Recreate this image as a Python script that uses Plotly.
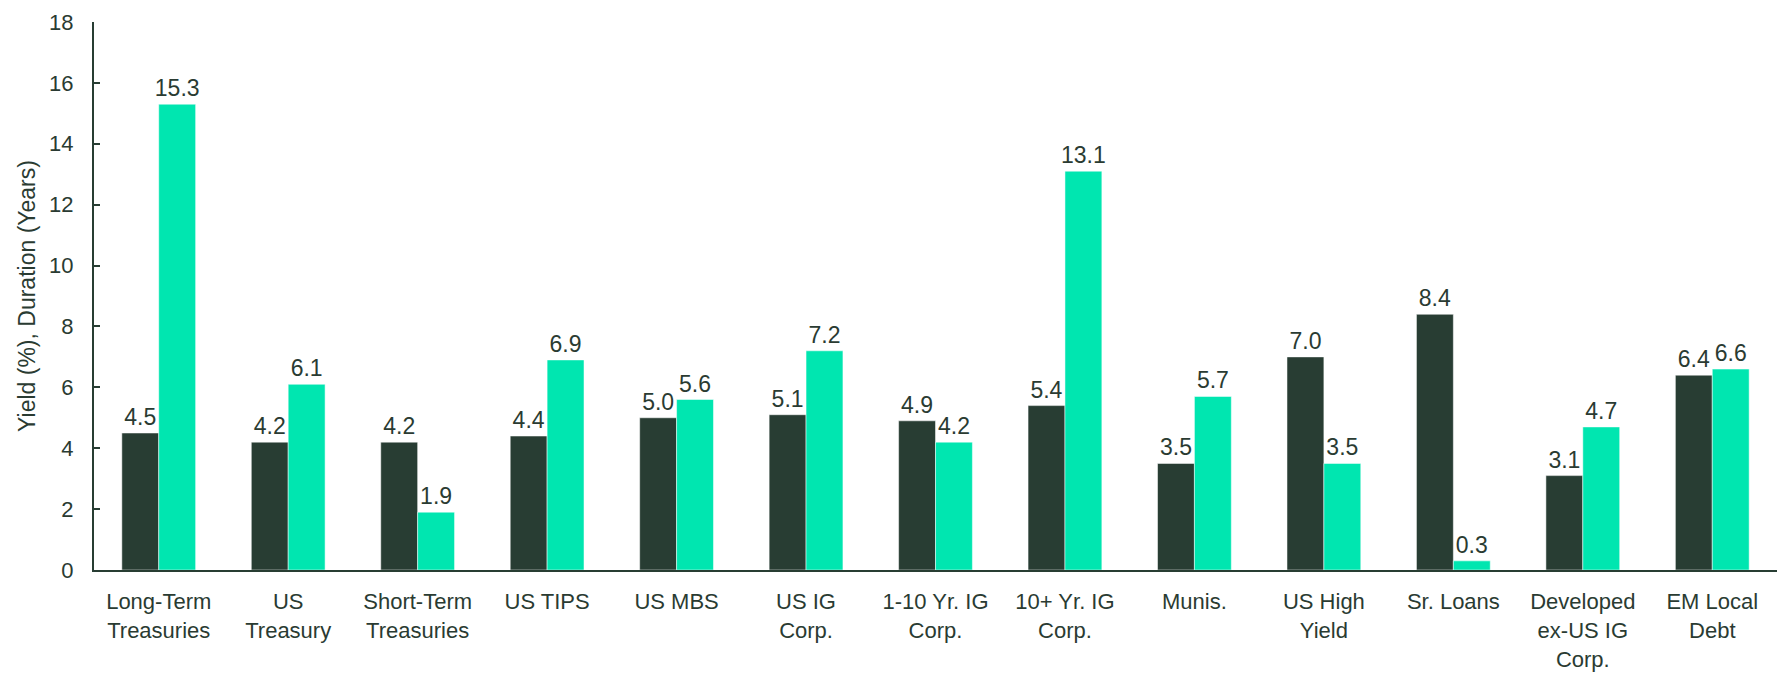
import plotly.graph_objects as go

categories = ["Long-Term<br>Treasuries", "US<br>Treasury", "Short-Term<br>Treasuries", "US TIPS",
              "US MBS", "US IG<br>Corp.", "1-10 Yr. IG<br>Corp.", "10+ Yr. IG<br>Corp.", "Munis.",
              "US High<br>Yield", "Sr. Loans", "Developed<br>ex-US IG<br>Corp.", "EM Local<br>Debt"]
yield_vals = [4.5, 4.2, 4.2, 4.4, 5.0, 5.1, 4.9, 5.4, 3.5, 7.0, 8.4, 3.1, 6.4]
duration_vals = [15.3, 6.1, 1.9, 6.9, 5.6, 7.2, 4.2, 13.1, 5.7, 3.5, 0.3, 4.7, 6.6]
y_ticks = [0, 2, 4, 6, 8, 10, 12, 14, 16, 18]

DARK = "#283D33"
TEAL = "#00E6B0"
TXT = "#2A3B32"
FONT = "Liberation Sans, Arial, sans-serif"

fig = go.Figure()
fig.add_trace(go.Bar(x=categories, y=yield_vals, name="Yield",
                     marker=dict(color=DARK, line=dict(color="white", width=0.5)),
                     text=[f"{v:.1f}" for v in yield_vals], textposition="outside",
                     constraintext="none",
                     textfont=dict(size=23, color=TXT, family=FONT), cliponaxis=False))
fig.add_trace(go.Bar(x=categories, y=duration_vals, name="Duration",
                     marker=dict(color=TEAL, line=dict(color="white", width=0.5)),
                     text=[f"{v:.1f}" for v in duration_vals], textposition="outside",
                     constraintext="none",
                     textfont=dict(size=23, color=TXT, family=FONT), cliponaxis=False))

fig.update_layout(
    width=1777, height=674,
    margin=dict(l=94, r=0, t=22, b=104),
    barmode="group", bargap=0.43, bargroupgap=0,
    showlegend=False,
    plot_bgcolor="white", paper_bgcolor="white",
    font=dict(family=FONT, size=22, color=TXT),
    xaxis=dict(showline=True, linecolor=DARK, linewidth=2, ticks="", showgrid=False,
               tickfont=dict(size=22, color=TXT), ticklabelstandoff=11, tickangle=0,
               automargin=False),
    yaxis=dict(range=[0, 18], tickvals=y_ticks, showline=True, linecolor=DARK, linewidth=2,
               ticks="inside", ticklen=6, tickwidth=2, tickcolor=DARK, showgrid=False, zeroline=False,
               tickfont=dict(size=22, color=TXT), ticklabelstandoff=14, automargin=False,
               title=dict(text="Yield (%), Duration (Years)", font=dict(size=23, color=TXT), standoff=7)),
)
fig.write_html("out.html", config={"displayModeBar": False},
               post_script="document.body.style.margin='0';document.body.style.overflow='hidden';")
